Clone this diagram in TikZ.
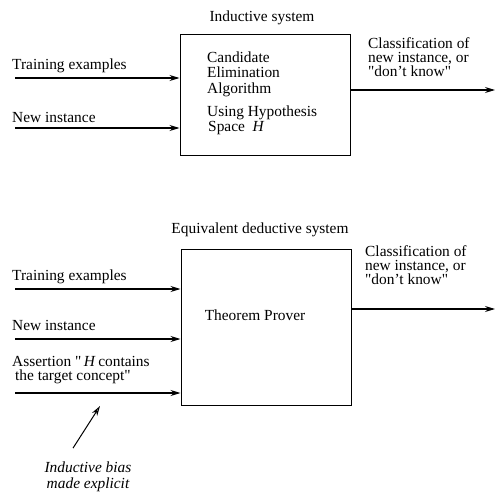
\documentclass[tikz,border=0pt]{standalone}
\usepackage{fontspec}
\setmainfont{Liberation Serif}[Ligatures=TeXOff]
\usetikzlibrary{arrows.meta}
\tikzset{
  sysbox/.style={draw, line width=1pt, minimum width=170pt, inner sep=0pt},
  lbl/.style={anchor=base west, inner sep=0pt, align=left},
  mid/.style={anchor=base, inner sep=0pt, align=center},
  feed/.style={line width=1.2pt, -{Stealth[length=10pt,width=6pt]}},
}
\begin{document}
\begin{tikzpicture}[x=1pt,y=-1pt,font=\fontsize{15.4}{14}\selectfont]
  %%%%% START %%%%%
  \def\xin{15}
  \def\xout{495}
  \useasboundingbox[fill=white] (0,0) rectangle (497,492);

  % inductive system (multi-line labels sit on their last line)
  \node[mid] (indtitle) at (262,22) {Inductive system};
  \node[sysbox, minimum height=120pt] (indbox) at (265,95) {};
  \node[lbl, font=\fontsize{15.4}{15}\selectfont] (cea) at (207,93) {Candidate\\Elimination\\Algorithm};
  \node[lbl] (hyp) at (207,131) {Using Hypothesis\\\hspace{1pt}Space\enspace\textit{H}};
  \node[lbl] (indtrain) at (12,70) {Training examples};
  \node[lbl] (indinst) at (12,122) {New instance};
  \node[lbl] (indclass) at (368,77) {Classification of\\new instance, or\\"don’t know"};
  \coordinate (indtrainin) at (\xin,78);
  \coordinate (indinstin) at (\xin,128);
  \coordinate (indres) at (\xout,90);
  \draw[feed] (indtrainin) -- (indtrainin -| indbox.west);
  \draw[feed] (indinstin) -- (indinstin -| indbox.west);
  \draw[feed] (indres -| indbox.east) -- (indres);

  % equivalent deductive system
  \node[mid] (dedtitle) at (260,233) {Equivalent deductive system};
  \node[sysbox, minimum height=156pt] (dedbox) at (266,327) {};
  \node[mid] (prover) at (255,320) {Theorem Prover};
  \node[lbl] (dedtrain) at (12,280) {Training examples};
  \node[lbl] (dedinst) at (12,330) {New instance};
  \node[lbl] (assert) at (12,380) {Assertion "\,\textit{H}\,contains\\\hspace{3pt}the target concept"};
  \node[lbl] (dedclass) at (365,284) {Classification of\\new instance, or\\"don’t know"};
  \coordinate (dedtrainin) at (\xin,289);
  \coordinate (dedinstin) at (\xin,339);
  \coordinate (assertin) at (\xin,393);
  \coordinate (dedres) at (\xout,309);
  \draw[feed] (dedtrainin) -- (dedtrainin -| dedbox.west);
  \draw[feed] (dedinstin) -- (dedinstin -| dedbox.west);
  \draw[feed] (assertin) -- (assertin -| dedbox.west);
  \draw[feed] (dedres -| dedbox.east) -- (dedres);

  % inductive bias
  \node[mid, font=\fontsize{15.4}{16}\selectfont\itshape] (bias) at (88,488) {Inductive bias\\made explicit};
  \coordinate (biastip) at (100,406);
  \draw[line width=1pt, -{Stealth[open,length=10pt,width=6pt]}] ([xshift=-15pt,yshift=13pt]bias.north) -- (biastip);
  %%%%% END %%%%%
\end{tikzpicture}
\end{document}
